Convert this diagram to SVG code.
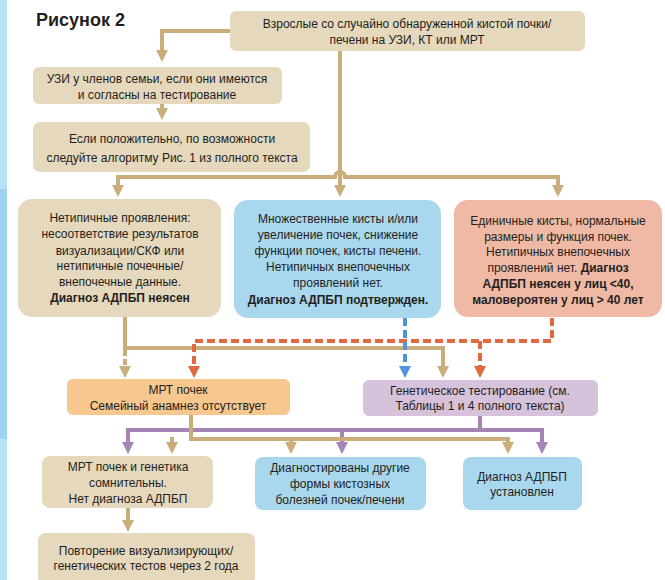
<svg xmlns="http://www.w3.org/2000/svg" width="665" height="580" viewBox="0 0 665 580">
<style>
text{font-family:"Liberation Sans",Arial,sans-serif;font-size:12px;fill:#231f20;text-anchor:middle}
.b{font-weight:bold}
.tan{fill:#e6d8bc}
.blue{fill:#a9d7ed}
.salmon{fill:#f0b9a5}
.orange{fill:#f8c68f}
.lav{fill:#d6c2db}
.ct{stroke:#c9ae7b;stroke-width:4;fill:none}
.cp{stroke:#a384b4;stroke-width:4;fill:none}
.co{stroke:#e0693f;stroke-width:4;fill:none;stroke-dasharray:8,4}
.cb{stroke:#4f95db;stroke-width:4;fill:none;stroke-dasharray:8,4}
.ctd{stroke:#c9ae7b;stroke-width:4;fill:none;stroke-dasharray:6,3}
</style>
<defs>
<marker id="aT" viewBox="0 0 12 12" refX="3" refY="6" markerWidth="12" markerHeight="12" markerUnits="userSpaceOnUse" orient="auto"><path d="M0,0 L12,6 L0,12 z" fill="#c9ae7b"/></marker>
<marker id="aP" viewBox="0 0 12 12" refX="3" refY="6" markerWidth="12" markerHeight="12" markerUnits="userSpaceOnUse" orient="auto"><path d="M0,0 L12,6 L0,12 z" fill="#a384b4"/></marker>
<marker id="aO" viewBox="0 0 12 12" refX="3" refY="6" markerWidth="12" markerHeight="12" markerUnits="userSpaceOnUse" orient="auto"><path d="M0,0 L12,6 L0,12 z" fill="#e0693f"/></marker>
<marker id="aB" viewBox="0 0 12 12" refX="3" refY="6" markerWidth="12" markerHeight="12" markerUnits="userSpaceOnUse" orient="auto"><path d="M0,0 L12,6 L0,12 z" fill="#4f95db"/></marker>
</defs>
<rect x="0" y="0" width="7" height="580" fill="#b7e2f8"/>
<rect x="0" y="189" width="7" height="250" fill="#9bd3f0"/>
<text x="36" y="26" class="b" style="font-size:18px;text-anchor:start">Рисунок 2</text>

<g id="connectors">
<path class="ct" d="M230,31 H162 V53" marker-end="url(#aT)"/>
<path class="ct" d="M162,104 V111" marker-end="url(#aT)"/>
<path class="ct" d="M340,51 V188" marker-end="url(#aT)"/>
<path class="ct" d="M118,177 H335 A5,5 0 0 1 345,177 H558"/>
<path class="ct" d="M118,175 V188" marker-end="url(#aT)"/>
<path class="ct" d="M558,175 V188" marker-end="url(#aT)"/>
<path class="ct" d="M125,317 V348 H443 V369" marker-end="url(#aT)"/>
<path class="ctd" d="M125,350 V369" marker-end="url(#aT)"/>
<path class="co" d="M552,318 V341 H194 V369" marker-end="url(#aO)"/>
<path class="co" d="M480,341 V369" marker-end="url(#aO)"/>
<path class="cb" d="M405,318 V369" marker-end="url(#aB)"/>
<path class="cp" d="M480,416 V430 H128 V445" marker-end="url(#aP)"/>
<path class="cp" d="M480,430 H542 V445" marker-end="url(#aP)"/>
<path class="cp" d="M342,430 V445" marker-end="url(#aP)"/>
<path class="ct" d="M191,415 V439 H508 V445" marker-end="url(#aT)"/>
<path class="ct" d="M172,437 V445" marker-end="url(#aT)"/>
<path class="ct" d="M291,439 V445" marker-end="url(#aT)"/>
<path class="ct" d="M128,508 V523" marker-end="url(#aT)"/>
</g>

<g id="n_top">
<rect x="230" y="11" width="355" height="40" rx="6" class="tan"/>
<text x="407" y="28">Взрослые со случайно обнаруженной кистой почки/</text>
<text x="407" y="44">печени на УЗИ, КТ или МРТ</text>
</g>
<g id="n_uzi">
<rect x="33" y="67" width="249" height="37" rx="6" class="tan"/>
<text x="157" y="83">УЗИ у членов семьи, если они имеются</text>
<text x="157" y="99">и согласны на тестирование</text>
</g>
<g id="n_pos">
<rect x="33" y="122" width="277" height="50" rx="7" class="tan"/>
<text x="172" y="143">Если положительно, по возможности</text>
<text x="172" y="162">следуйте алгоритму Рис. 1 из полного текста</text>
</g>
<g id="n_atyp">
<rect x="18" y="199" width="203" height="118" rx="14" class="tan"/>
<text x="120" y="222">Нетипичные проявления:</text>
<text x="120" y="238">несоответствие результатов</text>
<text x="120" y="255">визуализации/СКФ или</text>
<text x="120" y="270">нетипичные почечные/</text>
<text x="120" y="286">внепочечные данные.</text>
<text x="120" y="302" class="b">Диагноз АДПБП неясен</text>
</g>
<g id="n_multi">
<rect x="234" y="200" width="207" height="118" rx="14" class="blue"/>
<text x="338" y="223">Множественные кисты и/или</text>
<text x="338" y="239">увеличение почек, снижение</text>
<text x="338" y="255">функции почек, кисты печени.</text>
<text x="338" y="271">Нетипичных внепочечных</text>
<text x="338" y="287">проявлений нет.</text>
<text x="338" y="304" class="b">Диагноз АДПБП подтвержден.</text>
</g>
<g id="n_single">
<rect x="454" y="200" width="208" height="117" rx="14" class="salmon"/>
<text x="558" y="225">Единичные кисты, нормальные</text>
<text x="558" y="241">размеры и функция почек.</text>
<text x="558" y="256">Нетипичных внепочечных</text>
<text x="558" y="272">проявлений нет. <tspan class="b">Диагноз</tspan></text>
<text x="558" y="288" class="b">АДПБП неясен у лиц &lt;40,</text>
<text x="558" y="304" class="b">маловероятен у лиц &gt; 40 лет</text>
</g>
<g id="n_mrt">
<rect x="67" y="379" width="223" height="36" rx="6" class="orange"/>
<text x="178" y="394">МРТ почек</text>
<text x="178" y="410">Семейный анамнез отсутствует</text>
</g>
<g id="n_gen">
<rect x="363" y="380" width="235" height="36" rx="6" class="lav"/>
<text x="480" y="395">Генетическое тестирование (см.</text>
<text x="480" y="410">Таблицы 1 и 4 полного текста)</text>
</g>
<g id="n_doubt">
<rect x="42" y="456" width="171" height="52" rx="8" class="tan"/>
<text x="128" y="471">МРТ почек и генетика</text>
<text x="128" y="487">сомнительны.</text>
<text x="128" y="503">Нет диагноза АДПБП</text>
</g>
<g id="n_other">
<rect x="255" y="457" width="171" height="53" rx="8" class="blue"/>
<text x="340" y="472">Диагностированы другие</text>
<text x="340" y="488">формы кистозных</text>
<text x="340" y="504">болезней почек/печени</text>
</g>
<g id="n_est">
<rect x="463" y="457" width="119" height="53" rx="8" class="blue"/>
<text x="522" y="481">Диагноз АДПБП</text>
<text x="522" y="496">установлен</text>
</g>
<g id="n_repeat">
<rect x="38" y="533" width="217" height="52" rx="8" class="tan"/>
<text x="146" y="555">Повторение визуализирующих/</text>
<text x="146" y="570">генетических тестов через 2 года</text>
</g>
</svg>
